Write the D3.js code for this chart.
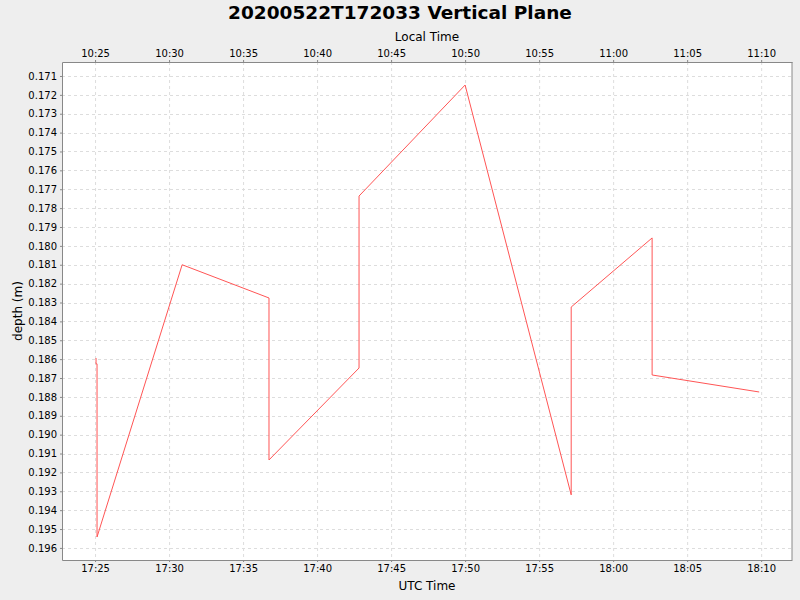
<!DOCTYPE html>
<html>
<head>
<meta charset="utf-8">
<script src="https://cdn.jsdelivr.net/npm/d3@7"></script>
<style>
  body { margin: 0; background: #eeeeee; }
  text { font-family: "DejaVu Sans", sans-serif; }
  .axis path { stroke: #888888; }
  .axis line { stroke: #888888; }
  .axis text { font-size: 10px; fill: #000; }
</style>
</head>
<body>
<div id="chart"></div>
<script>
// UTC sample times and depth readings
var utcTimes = [
  "2020-05-22T17:25:04Z", "2020-05-22T17:25:04Z", "2020-05-22T17:25:08Z",
  "2020-05-22T17:25:08Z", "2020-05-22T17:30:53Z", "2020-05-22T17:36:45Z",
  "2020-05-22T17:36:45Z", "2020-05-22T17:42:50Z", "2020-05-22T17:42:50Z",
  "2020-05-22T17:50:00Z", "2020-05-22T17:57:10Z", "2020-05-22T17:57:10Z",
  "2020-05-22T18:02:38Z", "2020-05-22T18:02:38Z", "2020-05-22T18:09:52Z"
];
var depths = [
  0.18594, 0.18625, 0.18625,
  0.19542, 0.18100, 0.18276,
  0.19134, 0.18647, 0.17736,
  0.17148, 0.19319, 0.18324,
  0.17958, 0.18684, 0.18774
];
var localOffsetHours = -7;
var titleText = "20200522T172033 Vertical Plane";

var svgWidth = 800;
var svgHeight = 600;
var margin = { top: 62, right: 8, bottom: 40, left: 62 };
var width = svgWidth - margin.left - margin.right;
var height = svgHeight - margin.top - margin.bottom;

var svg = d3.select("#chart")
  .append("svg")
  .attr("width", svgWidth)
  .attr("height", svgHeight);

svg.append("rect")
  .attr("width", svgWidth)
  .attr("height", svgHeight)
  .attr("fill", "#eeeeee");

var chartGroup = svg.append("g")
  .attr("transform", `translate(${margin.left}, ${margin.top})`);

var data = utcTimes.map(function(t, i) {
  return { time: new Date(t), depth: depths[i] };
});

// x domain a bit wider than the data, like the original
var xScale = d3.scaleUtc()
  .domain([new Date("2020-05-22T17:22:46Z"), new Date("2020-05-22T18:12:05Z")])
  .range([0, width]);

var yScale = d3.scaleLinear()
  .domain([0.17026, 0.19664])
  .range([0, height]);

var xTicks = d3.utcMinute.every(5).range(xScale.domain()[0], xScale.domain()[1]);
var yTicks = d3.range(171, 197).map(d => d / 1000);

chartGroup.append("rect")
  .attr("width", width)
  .attr("height", height)
  .attr("fill", "white");

// gridlines
chartGroup.selectAll(".vgrid")
  .data(xTicks)
  .enter()
  .append("line")
  .attr("x1", d => xScale(d) + 0.5)
  .attr("x2", d => xScale(d) + 0.5)
  .attr("y1", 0)
  .attr("y2", height)
  .attr("stroke", "#dddddd")
  .attr("stroke-dasharray", "3,3");

chartGroup.selectAll(".hgrid")
  .data(yTicks)
  .enter()
  .append("line")
  .attr("x1", 0)
  .attr("x2", width)
  .attr("y1", d => Math.round(yScale(d)) + 0.5)
  .attr("y2", d => Math.round(yScale(d)) + 0.5)
  .attr("stroke", "#dddddd")
  .attr("stroke-dasharray", "3,3");

// axes
var bottomAxis = d3.axisBottom(xScale)
  .tickValues(xTicks)
  .tickSize(2)
  .tickSizeOuter(0)
  .tickFormat(d3.utcFormat("%H:%M"));

var topAxis = d3.axisTop(xScale)
  .tickValues(xTicks)
  .tickSize(2)
  .tickSizeOuter(0)
  .tickFormat(d => d3.utcFormat("%H:%M")(d3.utcHour.offset(d, localOffsetHours)));

var leftAxis = d3.axisLeft(yScale)
  .tickValues(yTicks)
  .tickSize(2)
  .tickSizeOuter(0)
  .tickFormat(d3.format(".3f"));

chartGroup.append("g")
  .attr("class", "axis")
  .attr("transform", `translate(0, ${height})`)
  .call(bottomAxis);

chartGroup.append("g")
  .attr("class", "axis")
  .call(topAxis);

chartGroup.append("g")
  .attr("class", "axis")
  .call(leftAxis);

chartGroup.append("line")
  .attr("x1", width).attr("x2", width)
  .attr("y1", 0).attr("y2", height)
  .attr("stroke", "#888888");

// depth line
var line = d3.line()
  .x(d => xScale(d.time))
  .y(d => yScale(d.depth));

chartGroup.append("path")
  .datum(data)
  .attr("d", line)
  .attr("fill", "none")
  .attr("stroke", "#ff5555")
  .attr("stroke-width", 1);

// titles and axis labels
svg.append("text")
  .attr("x", svgWidth / 2)
  .attr("y", 19)
  .attr("text-anchor", "middle")
  .attr("font-size", "18.5px")
  .attr("font-weight", "bold")
  .text(titleText);

svg.append("text")
  .attr("x", margin.left + width / 2)
  .attr("y", 41)
  .attr("text-anchor", "middle")
  .attr("font-size", "12px")
  .text("Local Time");

svg.append("text")
  .attr("x", margin.left + width / 2)
  .attr("y", 590)
  .attr("text-anchor", "middle")
  .attr("font-size", "12px")
  .text("UTC Time");

svg.append("text")
  .attr("transform", "rotate(-90)")
  .attr("x", -(margin.top + height / 2))
  .attr("y", 22)
  .attr("text-anchor", "middle")
  .attr("font-size", "12px")
  .text("depth (m)");
</script>
</body>
</html>
